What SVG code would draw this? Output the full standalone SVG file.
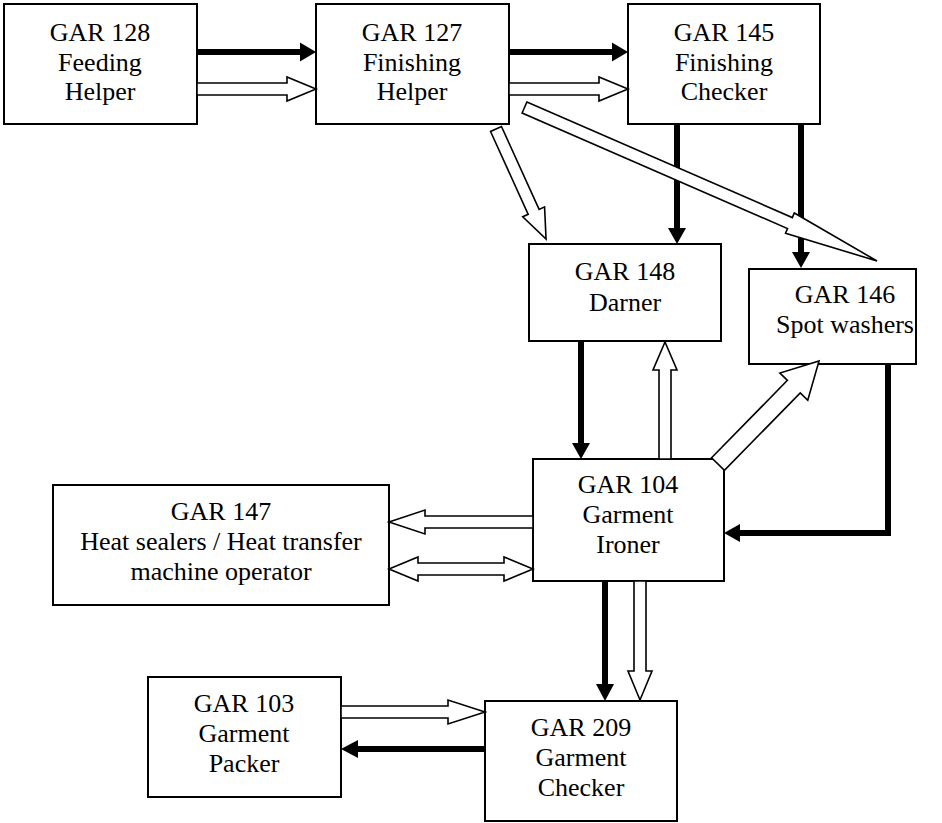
<svg xmlns="http://www.w3.org/2000/svg" width="942" height="823" viewBox="0 0 942 823">
<style>
.box{fill:#fff;stroke:#000;stroke-width:2}
.hollow{fill:#fff;stroke:#000;stroke-width:1.6;stroke-linejoin:miter}
.thick{fill:none;stroke:#000;stroke-width:6}
.head{fill:#000;stroke:none}
</style>
<rect width="942" height="823" fill="#fff"/>
<g font-family="Liberation Serif, Times New Roman, serif" font-size="26" text-anchor="middle" fill="#000">
<g id="n128"><rect class="box" x="4" y="4" width="193" height="120"/><text x="100" y="41">GAR 128</text><text x="100" y="71">Feeding</text><text x="100" y="100">Helper</text></g>
<g id="n127"><rect class="box" x="316" y="4" width="193" height="120"/><text x="412" y="41">GAR 127</text><text x="412" y="71">Finishing</text><text x="412" y="100">Helper</text></g>
<g id="n145"><rect class="box" x="628" y="4" width="192" height="120"/><text x="724" y="41">GAR 145</text><text x="724" y="71">Finishing</text><text x="724" y="100">Checker</text></g>
<g id="n148"><rect class="box" x="529" y="244" width="192" height="97"/><text x="625" y="280">GAR 148</text><text x="625" y="311">Darner</text></g>
<g id="n146"><rect class="box" x="749" y="269" width="167" height="95"/><text x="845" y="303">GAR 146</text><text x="845" y="333">Spot washers</text></g>
<g id="n104"><rect class="box" x="533" y="459" width="191" height="122"/><text x="628" y="493">GAR 104</text><text x="628" y="523">Garment</text><text x="628" y="553">Ironer</text></g>
<g id="n147"><rect class="box" x="53" y="485" width="336" height="120"/><text x="221" y="520">GAR 147</text><text x="221" y="550">Heat sealers / Heat transfer</text><text x="221" y="580">machine operator</text></g>
<g id="n103"><rect class="box" x="148" y="677" width="193" height="120"/><text x="244" y="712">GAR 103</text><text x="244" y="742">Garment</text><text x="244" y="772">Packer</text></g>
<g id="n209"><rect class="box" x="485" y="701" width="192" height="120"/><text x="581" y="736">GAR 209</text><text x="581" y="766">Garment</text><text x="581" y="796">Checker</text></g>
</g>
<g id="connectors">
<line class="thick" x1="197" y1="52" x2="301" y2="52"/><polygon class="head" points="300,42.5 316,52 300,61.5"/>
<polygon class="hollow" points="197,83 287,83 287,77 316,89 287,101 287,95 197,95"/>
<line class="thick" x1="509" y1="52" x2="613" y2="52"/><polygon class="head" points="612,42.5 628,52 612,61.5"/>
<polygon class="hollow" points="509,83 599,83 599,77 628,89 599,101 599,95 509,95"/>
<polygon class="hollow" transform="translate(496,129) rotate(65.56)" points="0,-6 91,-6 91,-12 121,0 91,12 91,6 0,6"/>
<line class="thick" x1="677" y1="124" x2="677" y2="229"/><polygon class="head" points="668,228 677,244 686,228"/>
<line class="thick" x1="801" y1="124" x2="801" y2="253"/><polygon class="head" points="792,252 801,268 810,252"/>
<polygon class="hollow" transform="translate(524.5,107.5) rotate(23.53)" points="0,-6 289.5,-6 289.5,-11 384.5,0 289.5,11 289.5,6 0,6"/>
<line class="thick" x1="581" y1="341" x2="581" y2="444"/><polygon class="head" points="572,443 581,459 590,443"/>
<polygon class="hollow" points="659,459 659,370 653,370 665,342 677,370 671,370 671,459"/>
<polygon class="hollow" transform="translate(718,464) rotate(-45.56)" points="0,-9 108.3,-9 108.3,-19.5 144.3,0 108.3,19.5 108.3,9 0,9"/>
<polyline class="thick" points="888,364 888,533 739,533"/><polygon class="head" points="740,524 724,533 740,542"/>
<polygon class="hollow" points="533,516 425,516 425,510 389,522 425,534 425,528 533,528"/>
<polygon class="hollow" points="389,569 418,557 418,563 504,563 504,557 533,569 504,581 504,575 418,575 418,581"/>
<line class="thick" x1="605" y1="581" x2="605" y2="685"/><polygon class="head" points="596,684 605,701 614,684"/>
<polygon class="hollow" points="634,581 634,671 628,671 640,700 652,671 646,671 646,581"/>
<polygon class="hollow" points="341,706 448,706 448,700 485,712 448,724 448,718 341,718"/>
<line class="thick" x1="485" y1="749" x2="357" y2="749"/><polygon class="head" points="358,740 341,749 358,758"/>
</g>
</svg>
